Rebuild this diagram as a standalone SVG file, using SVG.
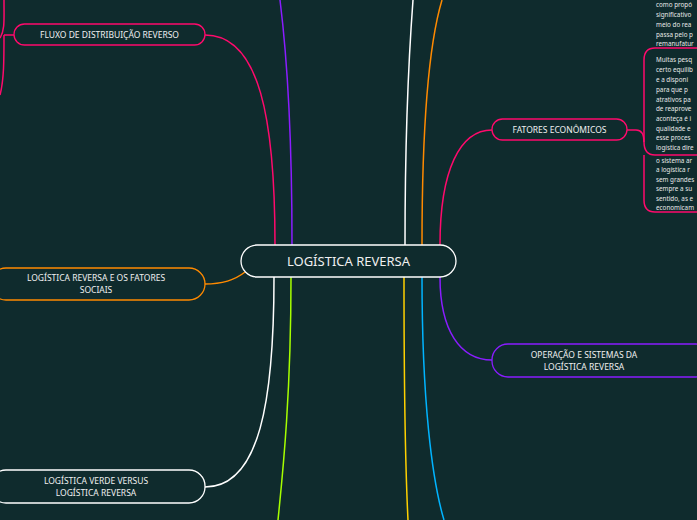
<svg xmlns="http://www.w3.org/2000/svg" width="697" height="520" viewBox="0 0 697 520">
<style>
.t{font-family:"Noto Sans","Liberation Sans",sans-serif;fill:#f0f0f0;font-size:8.5px;text-anchor:middle}
.s{font-family:"Noto Sans","Liberation Sans",sans-serif;fill:#e8e8e8;font-size:6.3px}
.c{fill:none;stroke-width:1.5}
.n{fill:#0f2b2d;stroke-width:1.3}
</style>
<rect width="697" height="520" fill="#0f2b2d"/>
<g id="connectors">
<path class="c" stroke="#ff0a6c" d="M275 245 C275 120 260 35 205 35"/>
<path class="c" stroke="#8a1dff" d="M292 245 C292 120 285 40 280 0"/>
<path class="c" stroke="#ffffff" d="M405 245 C405 120 410 40 413 0"/>
<path class="c" stroke="#ff8a00" d="M422 245 C422 120 430 40 442 0"/>
<path class="c" stroke="#ff0a6c" d="M440 245 C440 170 460 130 492 130"/>
<path class="c" stroke="#ffffff" d="M274 277 C274 400 260 487 205 487"/>
<path class="c" stroke="#a6ff00" d="M291 277 C291 400 282 480 278 520"/>
<path class="c" stroke="#ffd000" d="M404 277 C404 400 406 480 408 520"/>
<path class="c" stroke="#00b4ff" d="M422 277 C422 400 432 480 444 520"/>
<path class="c" stroke="#8a1dff" d="M440 277 C440 330 460 360 492 360"/>
<path class="c" stroke="#ff8a00" d="M245 272 C235 280 220 284 205 284"/>
<path class="c" stroke="#ff0a6c" d="M627 130 L636 130"/>
<path class="c" stroke="#ff0a6c" d="M14 35 L4 35 M4 0 C4 20 5 30 0 38 M4 35 C4 60 4 80 0 95"/>
</g>
<g id="center"><rect class="n" x="241" y="245" width="215" height="32" rx="16" stroke="#ffffff" stroke-width="2"/><text class="t" x="348.5" y="266" style="font-size:13px">LOGÍSTICA REVERSA</text></g>
<g id="fluxo"><rect class="n" x="14" y="24" width="191" height="21" rx="10.5" stroke="#ff0a6c"/><text class="t" x="109.5" y="38">FLUXO DE DISTRIBUIÇÃO REVERSO</text></g>
<g id="sociais"><rect class="n" x="-10" y="268" width="215" height="32" rx="16" stroke="#ff8a00"/><text class="t" x="96" y="281">LOGÍSTICA REVERSA E OS FATORES</text><text class="t" x="96" y="293">SOCIAIS</text></g>
<g id="verde"><rect class="n" x="-10" y="470" width="215" height="33" rx="16" stroke="#ffffff"/><text class="t" x="96" y="484">LOGÍSTICA VERDE VERSUS</text><text class="t" x="96" y="496">LOGÍSTICA REVERSA</text></g>
<g id="fatores"><rect class="n" x="492" y="119" width="135" height="21" rx="10.5" stroke="#ff0a6c"/><text class="t" x="559.5" y="133">FATORES ECONÔMICOS</text></g>
<g id="operacao"><rect class="n" x="492" y="344" width="220" height="33" rx="16" stroke="#8a1dff"/><text class="t" x="584" y="358">OPERAÇÃO E SISTEMAS DA</text><text class="t" x="584" y="370">LOGÍSTICA REVERSA</text></g>
<g id="top-text"><text class="s" x="656" y="7">como propó</text><text class="s" x="656" y="17">significativo</text><text class="s" x="656" y="27">meio do rea</text><text class="s" x="656" y="37">passa pelo p</text><text class="s" x="656" y="46">remanufatur</text></g>
<g id="box1"><path class="c" stroke="#ff0a6c" stroke-width="1.2" d="M710 48 L655 48 Q644 48 644 60 L644 142 Q644 155 655 155 L710 155"/>
<text class="s" x="656" y="62">Muitas pesq</text><text class="s" x="656" y="72">certo equilib</text><text class="s" x="656" y="82">e a disponi</text><text class="s" x="656" y="92">para que p</text><text class="s" x="656" y="102">atrativos pa</text><text class="s" x="656" y="111">de reaprove</text><text class="s" x="656" y="121">aconteça é i</text><text class="s" x="656" y="131">qualidade e</text><text class="s" x="656" y="140">esse proces</text><text class="s" x="656" y="150">logística dire</text></g>
<g id="box2"><path class="c" stroke="#ff0a6c" stroke-width="1.2" d="M644 155 L644 200 Q644 212 655 212 L710 212"/><path class="c" stroke="#ff0a6c" d="M636 130 Q644 130 644 142"/>
<text class="s" x="656" y="163">o sistema ar</text><text class="s" x="656" y="172">a logística r</text><text class="s" x="656" y="182">sem grandes</text><text class="s" x="656" y="191">sempre a su</text><text class="s" x="656" y="201">sentido, as e</text><text class="s" x="656" y="210">economicam</text></g>
</svg>
